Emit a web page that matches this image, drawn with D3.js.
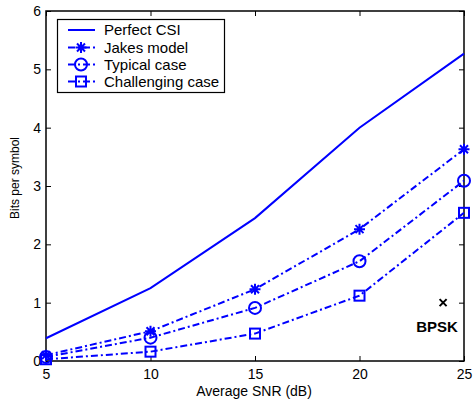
<!DOCTYPE html>
<html>
<head>
<meta charset="utf-8">
<script src="https://cdn.jsdelivr.net/npm/d3@7"></script>
<style>
  body { margin: 0; background: #fff; }
  svg { font-family: "Liberation Sans", Arial, sans-serif; }
</style>
</head>
<body>
<svg width="473" height="405"></svg>
<script>
// Data
let snr = [5, 10, 15, 20, 25];
let perfect = [0.39, 1.25, 2.45, 4.0, 5.27];
let jakes = [0.1, 0.51, 1.23, 2.26, 3.63];
let typical = [0.07, 0.4, 0.91, 1.71, 3.09];
let challenging = [0.03, 0.16, 0.47, 1.12, 2.54];
let xTicks = [5, 10, 15, 20, 25];
let yTicks = [0, 1, 2, 3, 4, 5, 6];
let bpsk = [24, 1];

let series = [
  { name: "Perfect CSI", values: perfect, marker: "none", dash: null },
  { name: "Jakes model", values: jakes, marker: "star", dash: "7,3,2,3" },
  { name: "Typical case", values: typical, marker: "circle", dash: "7,3,2,3" },
  { name: "Challenging case", values: challenging, marker: "square", dash: "7,3,2,3" }
];

let blue = "#0000ff";
let plotLeft = 46, plotTop = 11, plotRight = 464, plotBottom = 361;

let svg = d3.select("svg");

let xScale = d3.scaleLinear().domain([5, 25]).range([plotLeft, plotRight]);
let yScale = d3.scaleLinear().domain([0, 6]).range([plotBottom, plotTop]);

// Axes (MATLAB style, ticks inside, box)
let drawAxes = () => {
  let fmt = d3.format("d");
  svg.append("g")
    .attr("transform", "translate(0," + plotBottom + ")")
    .call(d3.axisBottom(xScale).tickValues(xTicks).tickFormat(fmt).tickSizeInner(-5).tickSizeOuter(0).tickPadding(8))
    .call(g => g.select(".domain").remove());
  svg.append("g")
    .attr("transform", "translate(0," + plotTop + ")")
    .call(d3.axisTop(xScale).tickValues(xTicks).tickSizeInner(-5).tickSizeOuter(0).tickFormat(""))
    .call(g => g.select(".domain").remove());
  svg.append("g")
    .attr("transform", "translate(" + plotLeft + ",0)")
    .call(d3.axisLeft(yScale).tickValues(yTicks).tickFormat(fmt).tickSizeInner(-5).tickSizeOuter(0).tickPadding(5))
    .call(g => g.select(".domain").remove());
  svg.append("g")
    .attr("transform", "translate(" + plotRight + ",0)")
    .call(d3.axisRight(yScale).tickValues(yTicks).tickSizeInner(-5).tickSizeOuter(0).tickFormat(""))
    .call(g => g.select(".domain").remove());

  svg.selectAll(".tick line").attr("stroke", "#000");
  svg.selectAll(".tick text").attr("font-size", 14).attr("fill", "#000")
    .style("font-family", "'Liberation Sans', Arial, sans-serif");

  svg.append("rect")
    .attr("x", plotLeft).attr("y", plotTop)
    .attr("width", plotRight - plotLeft).attr("height", plotBottom - plotTop)
    .attr("fill", "none").attr("stroke", "#000").attr("stroke-width", 1.5);

  svg.append("text")
    .attr("x", 254).attr("y", 396)
    .attr("text-anchor", "middle").attr("font-size", 14)
    .text("Average SNR (dB)");

  svg.append("text")
    .attr("transform", "translate(19," + 178 + ") rotate(-90)")
    .attr("text-anchor", "middle").attr("font-size", 12)
    .text("Bits per symbol");
};

let drawMarker = (g, type, x, y) => {
  if (type === "circle") {
    g.append("circle").attr("cx", x).attr("cy", y).attr("r", 6)
      .attr("fill", "none").attr("stroke", blue).attr("stroke-width", 2);
  } else if (type === "square") {
    g.append("rect").attr("x", x - 5).attr("y", y - 5).attr("width", 10).attr("height", 10)
      .attr("fill", "none").attr("stroke", blue).attr("stroke-width", 2);
  } else if (type === "star") {
    let s = 5.5, d = 4;
    g.append("path")
      .attr("d", "M" + (x - s) + "," + y + "H" + (x + s) +
        "M" + x + "," + (y - s) + "V" + (y + s) +
        "M" + (x - d) + "," + (y - d) + "L" + (x + d) + "," + (y + d) +
        "M" + (x - d) + "," + (y + d) + "L" + (x + d) + "," + (y - d))
      .attr("stroke", blue).attr("stroke-width", 2).attr("fill", "none");
  }
};

let drawLines = () => {
  let line = d3.line().x((d, i) => xScale(snr[i])).y(d => yScale(d));
  series.forEach(s => {
    let g = svg.append("g");
    g.append("path")
      .attr("d", line(s.values))
      .attr("fill", "none").attr("stroke", blue).attr("stroke-width", 2)
      .attr("stroke-dasharray", s.dash);
    s.values.forEach((v, i) => drawMarker(g, s.marker, xScale(snr[i]), yScale(v)));
  });

  // BPSK point
  let bx = xScale(bpsk[0]), by = yScale(bpsk[1]);
  svg.append("path")
    .attr("d", "M" + (bx - 3.5) + "," + (by - 3.5) + "L" + (bx + 3.5) + "," + (by + 3.5) +
      "M" + (bx - 3.5) + "," + (by + 3.5) + "L" + (bx + 3.5) + "," + (by - 3.5))
    .attr("stroke", "#000").attr("stroke-width", 2);
  svg.append("text")
    .attr("x", bx - 6).attr("y", by + 29)
    .attr("text-anchor", "middle").attr("font-size", 15).attr("font-weight", "bold")
    .text("BPSK");
};

let drawLegend = () => {
  let lg = svg.append("g");
  lg.append("rect")
    .attr("x", 57.5).attr("y", 19.5).attr("width", 167).attr("height", 73)
    .attr("fill", "#fff").attr("stroke", "#000").attr("stroke-width", 1.2);
  let rows = [30, 47.5, 64.5, 81.5];
  series.forEach((s, i) => {
    let y = rows[i];
    lg.append("path")
      .attr("d", "M68," + y + "H95")
      .attr("stroke", blue).attr("stroke-width", 2)
      .attr("stroke-dasharray", s.dash ? "7,3,2,3" : null);
    drawMarker(lg, s.marker, 81, y);
    lg.append("text")
      .attr("x", 104).attr("y", y + 5)
      .attr("font-size", 15)
      .text(s.name);
  });
};

drawAxes();
drawLines();
drawLegend();
</script>
</body>
</html>
